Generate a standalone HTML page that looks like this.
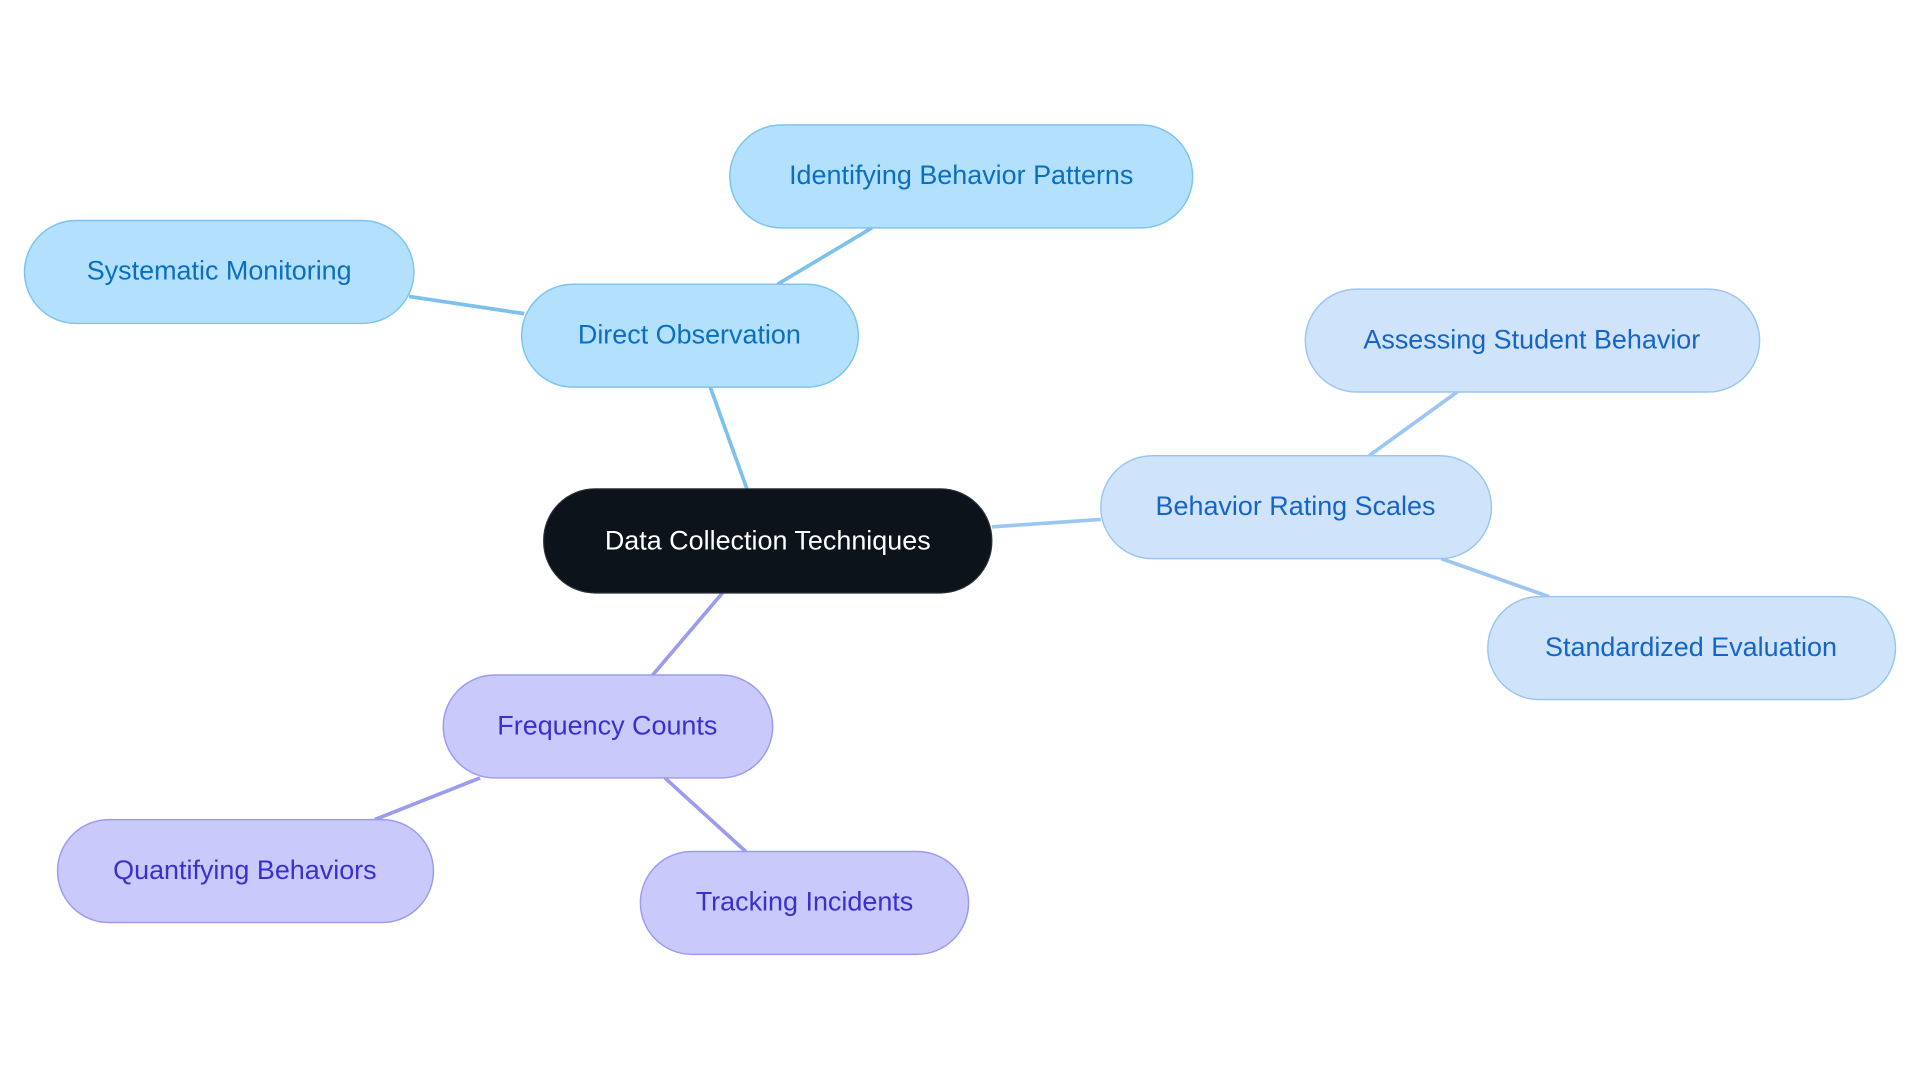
<!DOCTYPE html>
<html><head><style>html,body{margin:0;padding:0;background:#fff;}svg{display:block}</style></head>
<body>
<svg width="1920" height="1083" viewBox="0 0 1568 884" preserveAspectRatio="none" xmlns="http://www.w3.org/2000/svg" font-family="Liberation Sans, sans-serif" font-size="22">
<g stroke-width="3" fill="none">
<line x1="610" y1="399" x2="580" y2="316" stroke="#7cc0ee"/>
<line x1="635" y1="232" x2="712" y2="186" stroke="#7cc0ee"/>
<line x1="428" y1="256" x2="334" y2="242" stroke="#7cc0ee"/>
<line x1="810" y1="430" x2="899" y2="424" stroke="#9cc6f2"/>
<line x1="1118" y1="372" x2="1190" y2="320" stroke="#9cc6f2"/>
<line x1="1177" y1="456" x2="1265" y2="487" stroke="#9cc6f2"/>
<line x1="590" y1="484" x2="533" y2="551" stroke="#9d9bf0"/>
<line x1="392" y1="635" x2="306" y2="669" stroke="#9d9bf0"/>
<line x1="543" y1="635" x2="609" y2="695" stroke="#9d9bf0"/>
</g>
<g text-anchor="middle" dominant-baseline="central">
<rect x="444" y="399" width="366" height="85" rx="42" fill="#0d131b" stroke="#2a3038"/>
<text x="627" y="441" fill="#fff">Data Collection Techniques</text>
<g fill="#b3e0fd" stroke="#7cc4f2" stroke-width="1.2">
<rect x="426" y="232" width="275" height="84" rx="42"/>
<rect x="596" y="102" width="378" height="84" rx="42"/>
<rect x="20" y="180" width="318" height="84" rx="42"/>
</g>
<g fill="#0a6fc2">
<text x="563" y="273">Direct Observation</text>
<text x="785" y="143">Identifying Behavior Patterns</text>
<text x="179" y="221">Systematic Monitoring</text>
</g>
<g fill="#cfe3fb" stroke="#9cc6f2" stroke-width="1.2">
<rect x="899" y="372" width="319" height="84" rx="42"/>
<rect x="1066" y="236" width="371" height="84" rx="42"/>
<rect x="1215" y="487" width="333" height="84" rx="42"/>
</g>
<g fill="#1565c8">
<text x="1058" y="413">Behavior Rating Scales</text>
<text x="1251" y="277">Assessing Student Behavior</text>
<text x="1381" y="528">Standardized Evaluation</text>
</g>
<g fill="#c9c9fc" stroke="#9d9bf0" stroke-width="1.2">
<rect x="362" y="551" width="269" height="84" rx="42"/>
<rect x="47" y="669" width="307" height="84" rx="42"/>
<rect x="523" y="695" width="268" height="84" rx="42"/>
</g>
<g fill="#3b2fd0">
<text x="496" y="592">Frequency Counts</text>
<text x="200" y="710">Quantifying Behaviors</text>
<text x="657" y="736">Tracking Incidents</text>
</g>
</g>
</svg>
</body></html>
